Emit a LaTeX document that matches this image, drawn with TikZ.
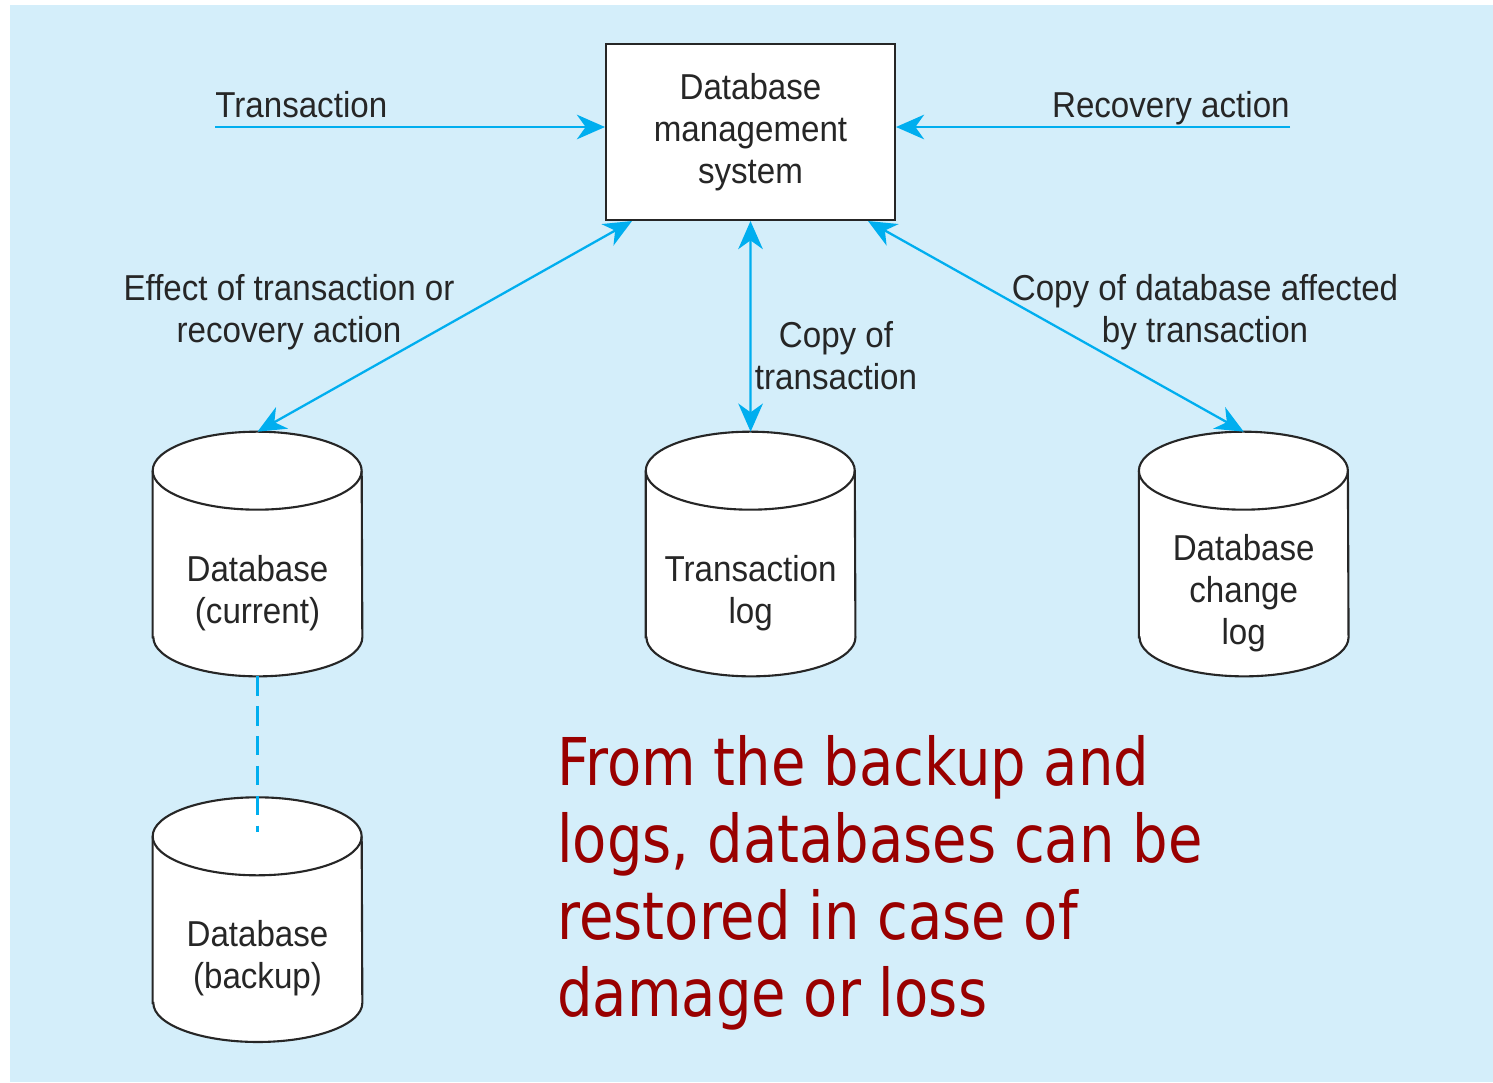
\documentclass[tikz,border=0pt]{standalone}
\usepackage{fontspec}
\usepackage{xcolor}
\definecolor{panelblue}{HTML}{D4EEFA}
\definecolor{flowcyan}{HTML}{00AEEF}
\definecolor{inkgray}{HTML}{262626}
\definecolor{notered}{HTML}{990000}
\newfontfamily\figfont[FakeStretch=0.92]{Liberation Sans}
\newfontfamily\notefont[FakeStretch=0.85]{DejaVu Sans}
\usetikzlibrary{positioning,arrows.meta,backgrounds,calc}

\begin{document}
\begin{tikzpicture}[x=0.02cm, y=0.02cm,
      >={Stealth[length=16pt, width=14pt, inset=5pt]},
      lbl/.style={font=\figfont\fontsize{20.5}{23.9}\selectfont, text=inkgray,
                  align=center, inner sep=0pt},
      dbms/.style={rectangle, draw=inkgray, line width=1.2pt, fill=white,
                   minimum width=5.78cm, minimum height=3.52cm, lbl},
      store/.style={rectangle, minimum width=4.18cm, minimum height=3.32cm, lbl},
      cyl/.style={draw=inkgray, line width=1.2pt, fill=white},
      flow/.style={draw=flowcyan, line width=1.3pt, ->},
      both/.style={draw=flowcyan, line width=1.3pt, <->},
      link/.style={draw=flowcyan, line width=1.4pt, dash pattern=on 11pt off 6pt},
    ]
    \useasboundingbox (0,0) rectangle (1493,-1082);
    \node[dbms] (dbms) at (750.5,-132) {Database\\management\\system};
    \node[store] (cur) at (257.5,-593) {Database\\(current)};
    \node[store, right=5.67cm of cur] (tlog) {Transaction\\log};
    \node[store, right=5.67cm of tlog] (clog) {Database\\change\\log};
    \node[store, below=3.98cm of cur] (bak) {Database\\(backup)};
    \foreach \n in {cur,tlog,clog,bak}
      \coordinate (\n-top) at ([yshift=1.56cm]\n.north);

    % inputs to the dbms
    \coordinate (tin) at (215,-127);
    \coordinate (rin) at (1290,-127);
    \draw[flow] (tin) -- (tin -| dbms.west);
    \draw[flow] (rin) -- (rin -| dbms.east);
    \node[lbl, anchor=base west] (tlbl) at (215,-117) {Transaction};
    \node[lbl, anchor=base east] (rlbl) at (1290,-117) {Recovery action};

    \draw[both] ($(dbms.south west)+(27,0)$) -- (cur-top);
    \draw[both] (dbms.south) -- (tlog-top);
    \draw[both] ($(dbms.south east)+(-28,0)$) -- (clog-top);
    \node[lbl] (effect) at (289,-312) {Effect of transaction or\\recovery action};
    \node[lbl] (copyt) at (836,-356) {Copy of\\transaction};
    \node[lbl] (copyd) at (1205,-312) {Copy of database affected\\by transaction};

    \draw[link] (cur.south) -- ($(bak-top)+(0,-35)$);

    \node[anchor=north west, inner sep=0pt, align=left, text=notered,
          font=\notefont\fontsize{37.5}{43.8}\selectfont] (note) at (557,-735)
      {From the backup and\\logs, databases can be\\restored in case of\\damage or loss};

    \begin{scope}[on background layer]
      \fill[panelblue] (10,-5) rectangle (1493,-1082);
      \foreach \n in {cur,tlog,clog,bak} {
        \draw[cyl] ([yshift=0.78cm]\n.south west) -- ([yshift=0.78cm]\n.north west)
          arc[start angle=180, end angle=0, x radius=104.5, y radius=39]
          -- ([yshift=0.78cm]\n.south east)
          arc[start angle=0, end angle=-180, x radius=104.5, y radius=39] -- cycle;
        \draw[cyl, fill=none] ([yshift=0.78cm]\n.north west)
          arc[start angle=180, end angle=360, x radius=104.5, y radius=39];
      }
    \end{scope}
  \end{tikzpicture}
\end{document}
